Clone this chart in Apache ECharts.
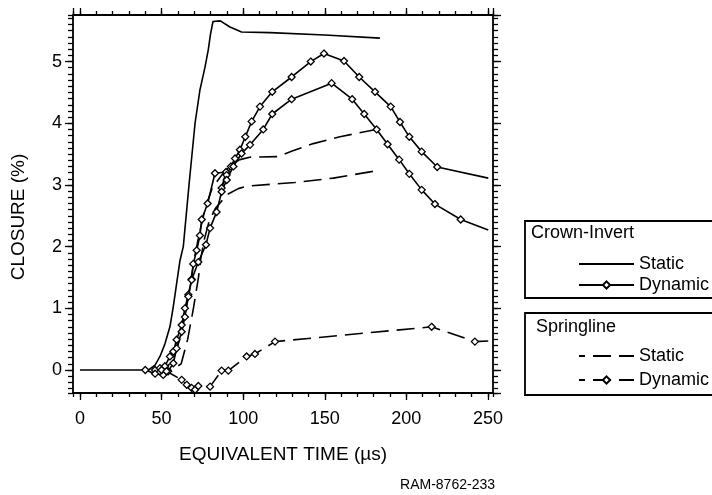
<!DOCTYPE html>
<html>
<head>
<meta charset="utf-8">
<script src="https://cdn.jsdelivr.net/npm/echarts@6/dist/echarts.min.js"></script>
<style>
  html, body { margin: 0; padding: 0; background: #fff; }
  #chart { width: 712px; height: 495px; }
</style>
</head>
<body>
<div id="chart"></div>
<script>
// axis window (frame is a bit wider than the labelled range)
var xMin = -4.3, xMax = 253.1;
var yMin = -0.373, yMax = 5.755;

// Crown-Invert, static (solid)
var ciStatic = [[0, 0], [42, 0], [46, 0.08], [49, 0.22], [52, 0.42], [55.1, 0.7], [57, 1.0], [61.3, 1.78],
  [63.3, 2.0], [66.8, 3.0], [70.5, 4.0], [73.5, 4.54], [76.6, 4.91], [78.6, 5.19], [80, 5.45], [81.5, 5.65],
  [86, 5.66], [91.9, 5.56], [99, 5.48], [116.4, 5.47], [150, 5.43], [183.8, 5.38]];

// Crown-Invert, dynamic (solid + diamonds), two gauges
var ciDynA = [[46, 0], [49, 0.03], [52, 0.06], [55.1, 0.22], [57.2, 0.3], [59.2, 0.49], [62.3, 0.73], [64.3, 1.0],
  [66.4, 1.22], [68.4, 1.47], [69.4, 1.72], [71.5, 1.94], [73.5, 2.18], [74.6, 2.44], [78.2, 2.7], [82.7, 3.19],
  [89.5, 3.21], [86.8, 2.95], [89.8, 3.16], [92.5, 3.3], [95, 3.43], [98, 3.57], [101.3, 3.78], [105.2, 4.03],
  [110.3, 4.27], [117.8, 4.51], [129.7, 4.75], [141.4, 5.0], [149.5, 5.13], [161.8, 5.01], [171.1, 4.75],
  [180.8, 4.51], [190.4, 4.27], [196.1, 4.02], [201.8, 3.78], [209.4, 3.54], [218.9, 3.29], [250.2, 3.11]];
var ciDynB = [[40, 0], [46, -0.06], [51, -0.08], [54, -0.02], [57.2, 0.11], [59.2, 0.35], [62.3, 0.62],
  [64.3, 0.86], [66.4, 1.19], [68.4, 1.46], [72.5, 1.75], [77.2, 2.03], [79.7, 2.3], [83.7, 2.56], [86.8, 2.89],
  [89.9, 3.08], [94, 3.3], [99, 3.51], [104.2, 3.65], [112.3, 3.9], [117.8, 4.15], [129.7, 4.39], [154.2, 4.65],
  [166.8, 4.39], [174.2, 4.15], [181.8, 3.9], [188.5, 3.66], [195.6, 3.41], [201.8, 3.18], [209.4, 2.92],
  [217.5, 2.69], [233.3, 2.44], [250.2, 2.27]];

// Springline, static (dashed), two gauges
var slStaticA = [[45, 0], [52, 0.02], [57, 0.15], [60.5, 0.45], [64, 0.9], [67, 1.3], [70, 1.8], [73, 2.2],
  [76.5, 2.6], [81, 2.95], [88, 3.2], [94, 3.35], [98, 3.41], [104, 3.45], [121.5, 3.46], [130, 3.55],
  [143, 3.67], [159.3, 3.78], [181.4, 3.9]];
var slStaticB = [[45, 0], [56, 0], [62, 0.1], [64, 0.3], [66, 0.5], [69.5, 1.0], [72.6, 1.5], [74, 1.8],
  [76, 2.1], [79, 2.4], [83, 2.62], [89.9, 2.84], [97, 2.94], [102, 2.98], [131.7, 3.04], [155.2, 3.11],
  [183.8, 3.24]];

// Springline, dynamic (dashed + diamonds)
var slDyn = [[50, 0], [53, -0.02], [62.3, -0.16], [65.4, -0.24], [68.4, -0.29], [70.5, -0.32], [72.5, -0.26],
  [79.7, -0.27], [86.8, -0.01], [90.9, -0.01], [102.1, 0.22], [107.2, 0.26], [119.5, 0.46], [215.5, 0.7],
  [242, 0.46], [250.2, 0.47]];

var font = "'Liberation Sans', Arial, sans-serif";
var dash = [18, 8];

// last point of each dynamic trace carries no diamond
function marked(points) {
  return points.map(function (p, i) {
    return i === points.length - 1 ? { value: p, symbol: 'none' } : p;
  });
}

function lineSeries(name, data, dashed, diamonds) {
  return {
    name: name,
    type: 'line',
    data: diamonds ? marked(data) : data,
    symbol: diamonds ? 'diamond' : 'none',
    symbolSize: 7,
    lineStyle: { color: '#000', width: 1.6, type: dashed ? dash : 'solid' },
    itemStyle: { color: '#fff', borderColor: '#000', borderWidth: 1.3 },
    emphasis: { disabled: true },
    z: diamonds ? 3 : 2
  };
}

function xAx(pos, step, major) {
  return {
    type: 'value', position: pos, min: xMin, max: xMax,
    minInterval: step, maxInterval: step,
    axisLine: { show: major, onZero: false, lineStyle: { color: '#000', width: 1.8 } },
    axisTick: { show: true, inside: false, length: major ? 7 : 4, lineStyle: { color: '#000', width: 1.3 } },
    axisLabel: { show: pos === 'bottom' && major, margin: 17, fontSize: 18, color: '#000', fontFamily: font,
      showMinLabel: false, showMaxLabel: false },
    splitLine: { show: false }
  };
}

function yAx(pos, step, major) {
  return {
    type: 'value', position: pos, min: yMin, max: yMax,
    minInterval: step, maxInterval: step,
    axisLine: { show: major, onZero: false, lineStyle: { color: '#000', width: 1.8 } },
    axisTick: { show: true, inside: false, length: major ? 8 : 5, lineStyle: { color: '#000', width: 1.3 } },
    axisLabel: { show: pos === 'left' && major, margin: 11, fontSize: 18, color: '#000', fontFamily: font,
      showMinLabel: false, showMaxLabel: false },
    splitLine: { show: false }
  };
}

var xAxes = [xAx('bottom', 50, true), xAx('bottom', 10, false), xAx('top', 50, true), xAx('top', 10, false)];
xAxes[0].name = 'EQUIVALENT TIME (µs)';
xAxes[0].nameLocation = 'middle';
xAxes[0].nameGap = 52;
xAxes[0].nameTextStyle = { fontSize: 19, color: '#000', fontFamily: font };

var yAxes = [yAx('left', 1, true), yAx('left', 0.1, false), yAx('right', 1, true), yAx('right', 0.1, false)];
yAxes[0].name = 'CLOSURE (%)';
yAxes[0].nameLocation = 'middle';
yAxes[0].nameGap = 45;
yAxes[0].nameTextStyle = { fontSize: 19, color: '#000', fontFamily: font, padding: [0, 26, 0, 0] };

// legend entries: plain line for static, line + diamond for dynamic
var hideMark = { color: 'transparent', borderColor: 'transparent', borderWidth: 0 };
function legendItem(name, markerless, dashed) {
  var item = { name: name };
  if (markerless) item.itemStyle = hideMark;
  if (dashed) item.lineStyle = { dashOffset: 12 };
  return item;
}

var legendBase = {
  orient: 'vertical', left: 578, itemWidth: 55, itemHeight: 9, padding: 0,
  selectedMode: false,
  formatter: function (name) { return name.split(' ')[1]; },
  textStyle: { fontSize: 18, color: '#000', fontFamily: font, lineHeight: 16 }
};

var chart = echarts.init(document.getElementById('chart'));
chart.setOption({
  animation: false,
  backgroundColor: '#fff',
  grid: { left: 73, right: 219, top: 15, bottom: 102 },
  xAxis: xAxes,
  yAxis: yAxes,
  legend: [
    Object.assign({}, legendBase, {
      data: [legendItem('CI Static', true, false), legendItem('CI Dynamic', false, false)],
      top: 255, itemGap: 3
    }),
    Object.assign({}, legendBase, {
      data: [legendItem('SL Static', true, true), legendItem('SL Dynamic', false, true)],
      top: 347, itemGap: 6
    })
  ],
  graphic: [
    { type: 'rect', shape: { x: 525, y: 221, width: 230, height: 77 },
      style: { fill: 'none', stroke: '#000', lineWidth: 1.8 } },
    { type: 'rect', shape: { x: 525, y: 313, width: 230, height: 82 },
      style: { fill: 'none', stroke: '#000', lineWidth: 1.8 } },
    { type: 'text', x: 531, y: 233,
      style: { text: 'Crown-Invert', font: '18px ' + font, fill: '#000', verticalAlign: 'middle' } },
    { type: 'text', x: 536, y: 327,
      style: { text: 'Springline', font: '18px ' + font, fill: '#000', verticalAlign: 'middle' } },
    { type: 'text', x: 495, y: 485,
      style: { text: 'RAM-8762-233', font: '14px ' + font, fill: '#000', align: 'right', verticalAlign: 'middle' } }
  ],
  series: [
    lineSeries('CI Static', ciStatic, false, false),
    lineSeries('CI Dynamic', ciDynA, false, true),
    lineSeries('CI Dynamic', ciDynB, false, true),
    lineSeries('SL Static', slStaticA, true, false),
    lineSeries('SL Static', slStaticB, true, false),
    lineSeries('SL Dynamic', slDyn, true, true)
  ]
});
</script>
</body>
</html>
